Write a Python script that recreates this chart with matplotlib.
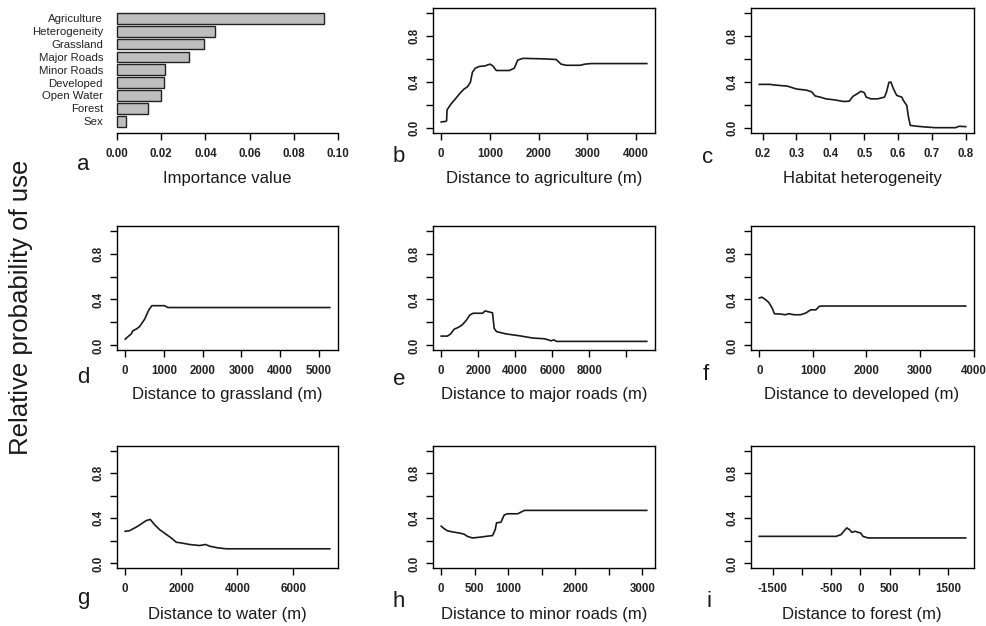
import numpy as np
import matplotlib
matplotlib.use("Agg")
import matplotlib.pyplot as plt

plt.rcParams['font.family'] = ['Liberation Sans', 'DejaVu Sans']

# panel a: variable importance
imp_names = ["Agriculture", "Heterogeneity", "Grassland", "Major Roads", "Minor Roads",
             "Developed", "Open Water", "Forest", "Sex"]
imp_vals = [0.0935, 0.0442, 0.0392, 0.0324, 0.0216, 0.0211, 0.0198, 0.0139, 0.0041]

# partial dependence curves
agri_x = [0, 90, 110, 120, 200, 300, 400, 470, 540, 600, 640, 700, 780, 900, 1000, 1060,
          1130, 1400, 1500, 1570, 1680, 2150, 2360, 2460, 2570, 2850, 2950, 3080, 4220]
agri_y = [0.056, 0.06, 0.065, 0.16, 0.21, 0.26, 0.31, 0.34, 0.36, 0.40, 0.485, 0.52, 0.535,
          0.54, 0.555, 0.54, 0.50, 0.50, 0.52, 0.59, 0.605, 0.60, 0.595, 0.555, 0.545, 0.545,
          0.555, 0.56, 0.56]

het_x = [0.19, 0.223, 0.233, 0.273, 0.30, 0.33, 0.345, 0.355, 0.37, 0.387, 0.41, 0.44, 0.456,
         0.467, 0.48, 0.49, 0.50, 0.506, 0.52, 0.54, 0.56, 0.566, 0.573, 0.579, 0.586, 0.596,
         0.611, 0.616, 0.626, 0.63, 0.636, 0.65, 0.68, 0.71, 0.77, 0.78, 0.80]
het_y = [0.38, 0.38, 0.375, 0.365, 0.34, 0.33, 0.315, 0.28, 0.27, 0.255, 0.247, 0.232, 0.235,
         0.277, 0.30, 0.32, 0.31, 0.27, 0.255, 0.255, 0.27, 0.315, 0.397, 0.40, 0.344, 0.285,
         0.27, 0.24, 0.197, 0.11, 0.026, 0.02, 0.012, 0.006, 0.006, 0.018, 0.015]

grass_x = [0, 155, 200, 285, 370, 500, 612, 690, 1017, 1100, 5284]
grass_y = [0.055, 0.10, 0.128, 0.142, 0.163, 0.227, 0.31, 0.346, 0.346, 0.33, 0.33]

major_x = [0, 330, 510, 690, 960, 1140, 1360, 1540, 1720, 2230, 2370, 2550, 2770, 2860, 2990,
           3500, 4220, 4950, 5580, 5940, 6090, 6210, 11100]
major_y = [0.081, 0.081, 0.10, 0.14, 0.16, 0.18, 0.22, 0.264, 0.28, 0.28, 0.30, 0.293, 0.284,
           0.148, 0.12, 0.10, 0.084, 0.064, 0.058, 0.04, 0.049, 0.035, 0.035]

dev_x = [0, 50, 113, 176, 240, 283, 396, 490, 553, 648, 773, 868, 962, 1057, 1120, 1182, 3855]
dev_y = [0.413, 0.42, 0.40, 0.375, 0.326, 0.276, 0.273, 0.267, 0.276, 0.267, 0.267, 0.282,
         0.31, 0.31, 0.34, 0.343, 0.343]

water_x = [0, 155, 274, 452, 631, 750, 893, 1048, 1226, 1524, 1643, 1821, 2000, 2298, 2655,
           2869, 3012, 3310, 3607, 7298]
water_y = [0.285, 0.29, 0.306, 0.33, 0.36, 0.38, 0.39, 0.344, 0.30, 0.247, 0.226, 0.188,
           0.182, 0.168, 0.159, 0.168, 0.153, 0.138, 0.13, 0.13]

minor_x = [0, 40, 90, 165, 265, 340, 390, 465, 565, 665, 765, 805, 825, 890, 940, 990, 1140,
           1190, 1240, 3065]
minor_y = [0.33, 0.31, 0.29, 0.28, 0.27, 0.26, 0.24, 0.226, 0.232, 0.24, 0.247, 0.30, 0.36,
           0.365, 0.43, 0.44, 0.44, 0.455, 0.47, 0.47]

forest_x = [-1730, -417, -330, -285, -233, -187, -147, -89, -43, 3, 43, 130, 1800]
forest_y = [0.24, 0.24, 0.256, 0.285, 0.315, 0.30, 0.276, 0.285, 0.276, 0.27, 0.24, 0.226, 0.226]

W, H = 987, 626
fig = plt.figure(figsize=(W / 100, H / 100), dpi=100)


def box(l, t, r, b):
    return [l / W, 1 - b / H, (r - l) / W, (b - t) / H]


def ftext(x, y, s, **kw):
    fig.text(x / W, 1 - y / H, s, **kw)


tick_font = dict(fontsize=8.3, fontweight="bold", color="#222222")

# ---- panel a ----
ax = fig.add_axes(box(117, 8, 338, 133))
pos = 0.7 + 1.2 * np.arange(len(imp_vals))[::-1]
ax.barh(pos, imp_vals, height=1.0, color="#bebebe", edgecolor="#222222", linewidth=1.0, clip_on=False)
ax.set_xlim(0, 0.10)
ax.set_ylim(-0.40, 11.26)
for s in ["top", "right", "left"]:
    ax.spines[s].set_visible(False)
ax.spines["bottom"].set_bounds(0, 0.10)
ax.spines["bottom"].set_linewidth(1.0)
ax.set_xticks(np.arange(0, 0.101, 0.02))
ax.set_xticklabels(["%.2f" % v for v in np.arange(0, 0.101, 0.02)], **tick_font)
ax.set_yticks(pos)
ax.set_yticklabels(imp_names, fontsize=8.2, color="#222222")
ax.tick_params(axis="y", length=0, pad=10)
ax.tick_params(axis="x", length=5, width=1.0, pad=6)

# ---- curve panels ----
panels = [
    ((433, 8, 655, 133), agri_x, agri_y, [0, 1000, 2000, 3000, 4000], None),
    ((751, 8, 974, 133), het_x, het_y, [0.2, 0.3, 0.4, 0.5, 0.6, 0.7, 0.8], None),
    ((117, 226, 338, 350), grass_x, grass_y, [0, 1000, 2000, 3000, 4000, 5000], None),
    ((433, 226, 655, 350), major_x, major_y, [0, 2000, 4000, 6000, 8000, 10000],
     ["0", "2000", "4000", "6000", "8000", ""]),
    ((751, 226, 974, 350), dev_x, dev_y, [0, 1000, 2000, 3000, 4000], None),
    ((117, 446, 338, 568), water_x, water_y, [0, 2000, 4000, 6000], None),
    ((433, 446, 655, 568), minor_x, minor_y, [0, 500, 1000, 1500, 2000, 2500, 3000],
     ["0", "500", "1000", "", "2000", "", "3000"]),
    ((751, 446, 974, 568), forest_x, forest_y, [-1500, -1000, -500, 0, 500, 1000, 1500],
     ["-1500", "", "-500", "0", "500", "", "1500"]),
]

for rect, xs, ys, xt, xl in panels:
    ax = fig.add_axes(box(*rect))
    ax.plot(xs, ys, color="#1a1a1a", linewidth=1.2)
    lo, hi = min(xs), max(xs)
    pad = 0.04 * (hi - lo)
    ax.set_xlim(lo - pad, hi + pad)
    ax.set_ylim(-0.04, 1.04)
    ax.set_xticks(xt)
    if xl is None:
        xl = [("%g" % v) for v in xt]
    ax.set_xticklabels(xl, **tick_font)
    ax.set_yticks([0, 0.2, 0.4, 0.6, 0.8, 1.0])
    ax.set_yticklabels(["0.0", "", "0.4", "", "0.8", ""], rotation=90, va="center", **tick_font)
    ax.tick_params(axis="x", length=5, width=1.0, pad=6)
    ax.tick_params(axis="y", length=5, width=1.0, pad=4)
    for s in ax.spines.values():
        s.set_linewidth(1.0)

# axis titles
xlabels = [
    (227, 178, "Importance value"), (544, 178, "Distance to agriculture (m)"),
    (862, 178, "Habitat heterogeneity"),
    (227, 395, "Distance to grassland (m)"), (544, 395, "Distance to major roads (m)"),
    (862, 395, "Distance to developed (m)"),
    (227, 614, "Distance to water (m)"), (544, 614, "Distance to minor roads (m)"),
    (862, 614, "Distance to forest (m)"),
]
for x, y, s in xlabels:
    ftext(x, y, s, fontsize=12, ha="center", va="center", color="#1a1a1a")

letters = [(83, 170, "a"), (399, 162, "b"), (708, 163, "c"),
           (83, 383, "d"), (399, 385, "e"), (706, 380, "f"),
           (83, 604, "g"), (399, 607, "h"), (709, 607, "i")]
for x, y, s in letters:
    ftext(x, y, s, fontsize=16, ha="center", va="baseline", color="#1a1a1a")

ftext(21, 307, "Relative probability of use", fontsize=18.5, rotation=90,
      ha="center", va="center", color="#1a1a1a")

fig.savefig("out.png", dpi=100)
